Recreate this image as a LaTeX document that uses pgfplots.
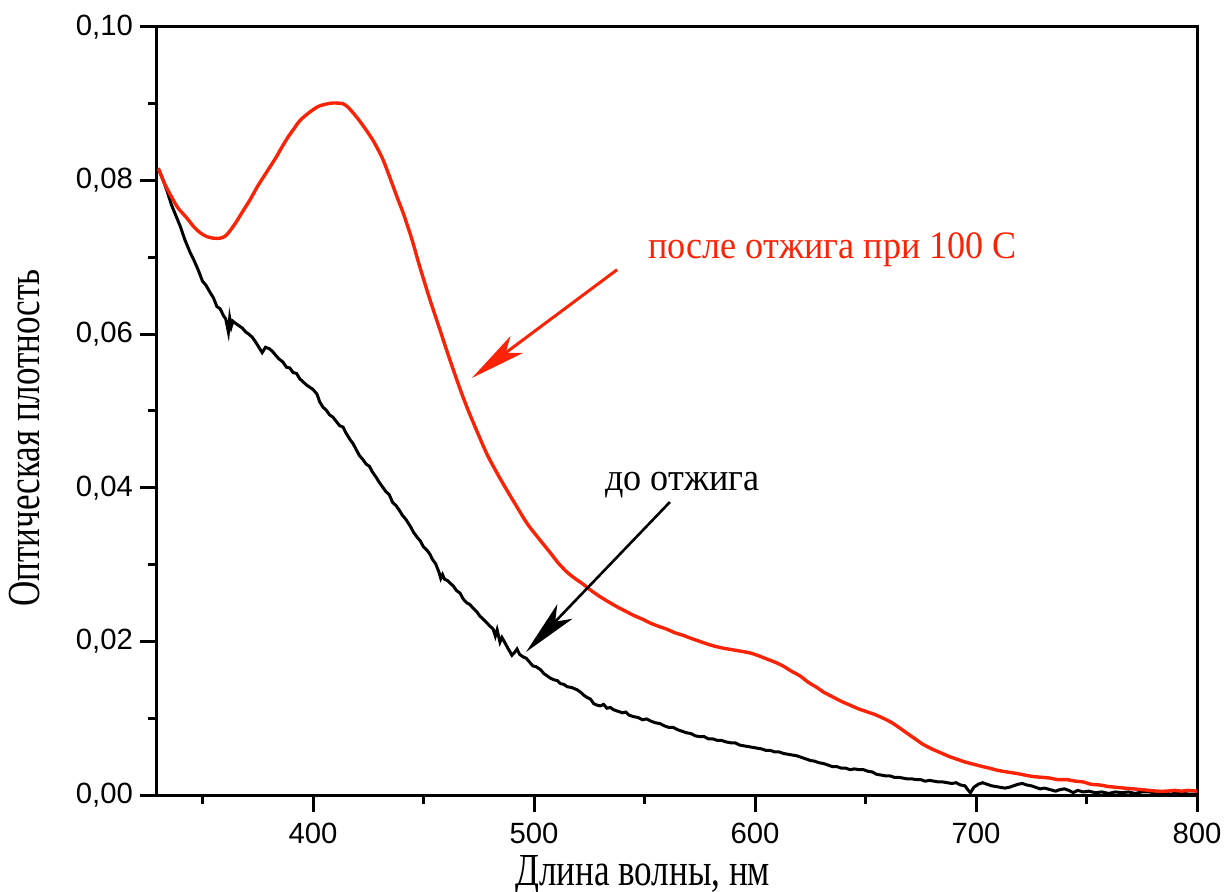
\documentclass[border=0pt]{standalone}
\usepackage{fontspec}
\setmainfont{Liberation Serif}
\newfontfamily\arialf{Liberation Sans}
\newfontfamily\lblf[FakeStretch=0.765]{Liberation Serif}
\newfontfamily\annf[FakeStretch=0.93]{Liberation Serif}
\usepackage{pgfplots}
\pgfplotsset{compat=1.18}
\usetikzlibrary{arrows.meta}
\definecolor{myred}{RGB}{250,35,5}

\begin{document}
\begin{tikzpicture}
\begin{axis}[
  scale only axis, width=520bp, height=384bp,
  xmin=329.4, xmax=800, ymin=0, ymax=0.1,
  xtick={400,500,600,700,800},
  minor xtick={350,450,550,650,750},
  ytick={0,0.02,0.04,0.06,0.08,0.10},
  minor ytick={0.01,0.03,0.05,0.07,0.09},
  xtick pos=bottom, ytick pos=left,
  tick align=outside,
  major tick length=8.5bp, minor tick length=4.5bp,
  tick style={line width=1.5bp, black},
  axis line style={line width=1.5bp},
  scaled y ticks=false,
  /pgf/number format/assume math mode=true,
  ticklabel style={font=\arialf\fontsize{14.7}{16}\selectfont},
  y tick label style={/pgf/number format/.cd, fixed, fixed zerofill, precision=2, use comma, /tikz/.cd},
  x tick label style={yshift=-2bp, /pgf/number format/.cd, fixed, precision=0, 1000 sep={}, /tikz/.cd},
  xlabel={Длина волны, нм},
  ylabel={Оптическая плотность},
  label style={font=\lblf\fontsize{23}{26}\selectfont},
  xlabel style={at={(axis description cs:0.467,-0.1172)}, anchor=base},
  ylabel style={at={(axis description cs:-0.1125,0.465)}, anchor=base},
]
\coordinate (SW) at (rel axis cs:0,0);
\coordinate (NE) at (rel axis cs:1,1);

% before annealing (black)
\addplot[black, line width=1.5bp] coordinates {
(330,0.0816) (332,0.0802) (334,0.0786) (336,0.0768) (338,0.0754) (340,0.0740)
(342,0.0723) (344.3,0.0707) (346,0.0697) (348,0.0684) (350,0.0669) (351.5,0.0664)
(353.5,0.0654) (355,0.0647) (356.5,0.0636) (358,0.0633) (359.5,0.0624) (360.5,0.0620)
(361.7,0.0603) (362.3,0.0621) (363,0.0610) (363.7,0.0617) (365,0.0614) (366.5,0.0611)
(368,0.0608) (369.5,0.0603) (371,0.0600) (372.5,0.0596) (374,0.0590) (375.5,0.0583)
(377,0.0576) (378.5,0.0583) (380.3,0.0581) (381.5,0.0578) (383,0.0573) (384.5,0.0568)
(386.3,0.0564) (388,0.0557) (389.5,0.0556) (391,0.0550) (392.5,0.0549) (394,0.0542)
(395.5,0.0538) (397,0.0534) (398.5,0.0531) (400,0.0528) (401.8,0.0522) (403,0.0512)
(404.5,0.0505) (406,0.0501) (407.5,0.0495) (409,0.0492) (410.9,0.0485) (412,0.0481)
(413.6,0.0479) (415,0.0471) (416.7,0.0463) (418,0.0458) (419.5,0.0450) (421,0.0442)
(422.5,0.0437) (424,0.0431) (425.5,0.0428) (427,0.0420) (428.5,0.0414) (430,0.0407)
(431.5,0.0401) (433,0.0395) (434.5,0.0391) (436,0.0381) (437.5,0.0377) (439,0.0371)
(440.5,0.0364) (442,0.0359) (444,0.0350) (445.5,0.0342) (447,0.0336) (448.5,0.0331)
(450,0.0323) (451.5,0.0319) (453,0.0313) (454,0.0307) (455.5,0.0301) (457,0.0290)
(457.8,0.0282) (458.6,0.0287) (459.5,0.0281) (461,0.0279) (462,0.0276) (463.5,0.0272)
(465,0.0266) (466.5,0.0263) (468,0.0255) (469.7,0.0250) (471,0.0248) (472.5,0.0243)
(474,0.0239) (475.5,0.0233) (477,0.0229) (478.7,0.0224) (480,0.0220) (481.5,0.0216)
(482.5,0.0207) (483.3,0.0215) (484.6,0.0199) (485.5,0.0205) (486.5,0.0200) (488,0.0192)
(489,0.0187) (490,0.0182) (491,0.0185) (492.3,0.0190) (493.5,0.0183) (495,0.0180)
(496.5,0.0178) (498,0.0173) (499.5,0.0168) (501,0.0167) (503,0.0163) (504.5,0.0158)
(506,0.0155) (507.5,0.0152) (509,0.0150) (510.5,0.0149) (512,0.0145) (513.5,0.0144)
(515,0.0141) (517,0.0140) (519.5,0.0137) (521,0.0134) (522.5,0.0130) (524,0.0127)
(525.5,0.0125) (527,0.0119) (528.5,0.0117) (530,0.0116) (531.5,0.0118) (533,0.0113)
(534.5,0.0114) (536,0.0111) (538,0.0109) (540,0.0107) (541.5,0.0108) (543,0.0104)
(545,0.0102) (547,0.0101) (549,0.0098) (551,0.0099) (553,0.0096) (555,0.0094)
(557,0.0093) (559,0.0090) (561,0.0088) (563,0.0088) (565,0.0085) (567,0.0083)
(569,0.0081) (571,0.0080) (573,0.0077) (575,0.0076) (577,0.0076) (579,0.0073)
(581,0.0073) (583,0.0071) (585,0.0071) (587,0.0069) (589,0.0068) (591,0.0068)
(593,0.0065) (595,0.0064) (597,0.0063) (599,0.0062) (601,0.0061) (603,0.0060)
(605,0.0058) (607,0.0058) (609,0.0056) (611,0.0056) (613,0.0054) (615,0.0053)
(617,0.0052) (619,0.0051) (621,0.0049) (623,0.0047) (625,0.0045) (627,0.0044)
(629,0.0042) (631,0.0041) (633,0.0039) (635,0.0037) (637,0.0037) (639,0.0035)
(641,0.0035) (643,0.0033) (645,0.0034) (647,0.0033) (649,0.0033) (651,0.0031)
(653,0.0030) (655,0.0027) (657,0.0026) (659,0.0025) (661,0.0025) (663,0.0023)
(665,0.0023) (667,0.0022) (669,0.0021) (671,0.0021) (673,0.0020) (675,0.0020)
(677,0.0018) (679,0.0019) (681,0.0018) (683,0.0017) (685,0.0017) (687,0.0016)
(689,0.0015) (691,0.0016) (693,0.0013) (695,0.0012) (696.5,0.0006) (697.5,0.0003)
(699,0.0010) (701,0.0014) (703,0.0016) (705,0.0014) (707,0.0012) (709,0.0011)
(711,0.0010) (713,0.0009) (715,0.0010) (717,0.0012) (719,0.0014) (721,0.0015)
(723,0.0013) (725,0.0012) (727,0.0010) (729,0.0008) (731,0.0009) (733.5,0.0007)
(736,0.0005) (738,0.0007) (740,0.0008) (742,0.0006) (744,0.0003) (746,0.0006)
(748.5,0.0004) (751,0.0005) (754,0.0003) (757,0.0004) (760,0.0002) (763,0.0004)
(766,0.0003) (769,0.0004) (772,0.0002) (775,0.0004) (778.5,0.0004) (782,0.0002)
(785,0.0003) (788,0.0001) (791,0.0003) (794,0.0002) (797,0.0001) (800,0.0001)
};

% after annealing at 100 C (red)
\addplot[myred, line width=1.7bp, smooth, tension=0.5] coordinates {
(330,0.0816) (333,0.0795) (336.7,0.0775) (339,0.0764) (343,0.0751) (346,0.0740)
(349,0.0732) (352,0.0727) (355,0.0725) (358,0.0725) (360,0.0727) (362,0.0733)
(365,0.0745) (368,0.0759) (371.5,0.0775) (375,0.0793) (379,0.0811)
(383,0.0829) (386,0.0844) (389,0.0858) (391.5,0.0868) (394,0.0878) (398,0.0888)
(402,0.0896) (405,0.0899) (409,0.0901) (413.6,0.0900) (416,0.0895) (418.5,0.0887)
(421,0.0878) (424,0.0866) (427,0.0853) (429.5,0.0840) (431.7,0.0827) (434,0.0810)
(436.3,0.0792) (438.5,0.0775) (440.9,0.0757) (443,0.0739) (444.9,0.0722)
(448.4,0.0687) (452.9,0.0645) (457.5,0.0605) (462,0.0566) (466.5,0.0529)
(469.5,0.0506) (472.5,0.0485) (475.6,0.0464) (479,0.0442) (483.3,0.0419)
(487.5,0.0398) (492.3,0.0375) (497,0.0353) (502.7,0.0332) (507.2,0.0316)
(511,0.0302) (515,0.0290) (518.5,0.0282) (522,0.0275) (526,0.0266) (530,0.0258)
(534,0.0251) (537.6,0.0245) (541,0.0240) (545,0.0234) (549,0.0229) (552.5,0.0224)
(556,0.0220) (560,0.0216) (564,0.0211) (567.4,0.0208) (571,0.0204) (575,0.0200)
(579,0.0196) (582.8,0.0193) (586,0.0191) (590,0.0189) (594,0.0187) (597.7,0.0185)
(601,0.0182) (605.4,0.0177) (609,0.0173) (612.7,0.0168) (616,0.0162) (620.4,0.0155)
(624,0.0147) (628,0.0140) (631,0.0134) (635,0.0128) (639,0.0122) (643,0.0117)
(647,0.0112) (650,0.0109) (654,0.0105) (658,0.0100) (662,0.0094) (665.6,0.0087)
(669,0.0080) (673,0.0072) (676,0.0066) (680,0.0060) (684,0.0055) (688,0.0050)
(692,0.0046) (695,0.0043) (699,0.0040) (703,0.0037) (706,0.0035) (710,0.0032)
(714,0.0030) (718.5,0.0028) (722,0.0026) (726,0.0024) (730,0.0023) (733.5,0.0022)
(737,0.0020) (741,0.0020) (745,0.0018) (748.5,0.0017) (752,0.0014) (756,0.0013)
(760,0.0011) (763.6,0.0010) (767,0.0009) (771,0.0008) (775,0.0007) (778.5,0.0006)
(782,0.0005) (786,0.0005) (790,0.0006) (793,0.0005) (796,0.0006) (800,0.0005)
};

\node[anchor=base west, inner sep=0pt, text=myred, font=\annf\fontsize{19.5}{22}\selectfont]
  at (axis cs:551.6,0.0699) {после отжига при 100 С};
\draw[myred, line width=1.5bp, -{Stealth[length=28bp,width=10.5bp,inset=7bp]}]
  (axis cs:537.6,0.0684) -- (axis cs:471.9,0.0543);
\node[anchor=base west, inner sep=0pt, font=\annf\fontsize{19.5}{22}\selectfont]
  at (axis cs:532.1,0.0396) {до отжига};
\draw[black, line width=1.3bp, -{Stealth[length=28bp,width=10.5bp,inset=7bp]}]
  (axis cs:561.5,0.03815) -- (axis cs:496.4,0.01862);
\end{axis}
\pgfresetboundingbox
\path[use as bounding box] ([xshift=-78.5bp,yshift=-48.5bp]SW) rectangle ([xshift=14bp,yshift=13.5bp]NE);
\end{tikzpicture}
\end{document}
